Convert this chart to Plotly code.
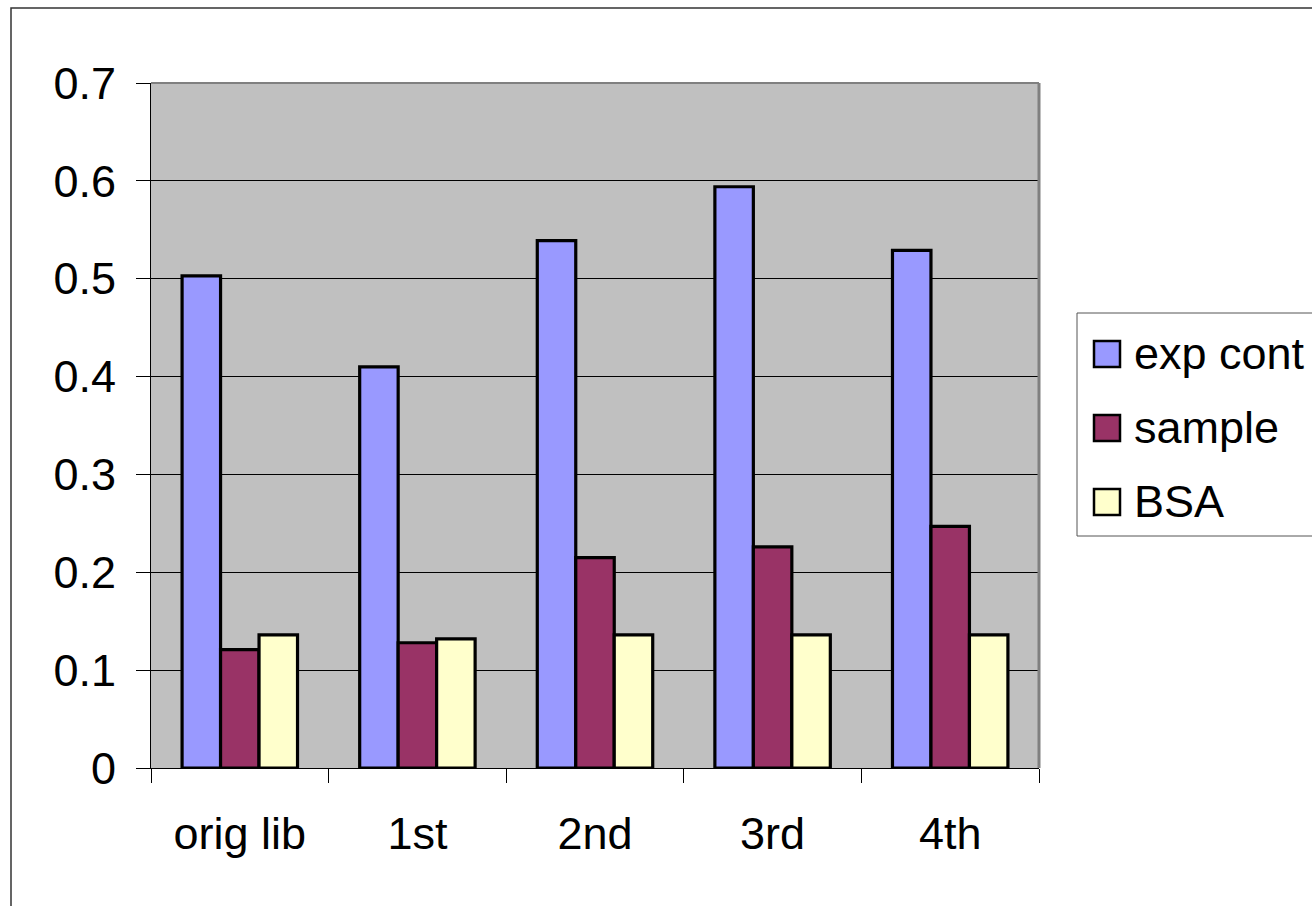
import plotly.graph_objects as go

# Category labels and series values
categories = ["orig lib", "1st", "2nd", "3rd", "4th"]
series_names = ["exp cont", "sample", "BSA"]
exp_cont = [0.503, 0.410, 0.539, 0.594, 0.529]
sample = [0.121, 0.128, 0.215, 0.226, 0.247]
bsa = [0.136, 0.132, 0.136, 0.136, 0.136]
y_ticks = [0, 0.1, 0.2, 0.3, 0.4, 0.5, 0.6, 0.7]

colors = ["#9999FF", "#993366", "#FFFFCC"]
FONT = "Liberation Sans, Arial, sans-serif"

W, H = 1312, 906
L, R, T, B = 151, 273, 83, 138
PW, PH = W - L - R, H - T - B


def px_x(px):
    return (px - L) / PW


def px_y(py):
    return (H - B - py) / PH


fig = go.Figure()
for name, vals, col in zip(series_names, [exp_cont, sample, bsa], colors):
    fig.add_trace(go.Bar(
        x=categories, y=vals, name=name,
        marker=dict(color=col, line=dict(color="black", width=3.2)),
        showlegend=False,
    ))

shapes = []
annotations = []

# outer chart frame
shapes.append(dict(type="rect", xref="paper", yref="paper",
                   x0=px_x(11), x1=px_x(W + 20), y0=px_y(H + 20), y1=px_y(8),
                   line=dict(color="#333333", width=1.5), fillcolor="rgba(0,0,0,0)"))
# plot-area border (top and right)
shapes.append(dict(type="line", xref="paper", yref="paper", x0=0, x1=1, y0=1, y1=1,
                   line=dict(color="#808080", width=2)))
shapes.append(dict(type="line", xref="paper", yref="paper", x0=1, x1=1, y0=0, y1=1,
                   line=dict(color="#808080", width=3)))

# legend box
shapes.append(dict(type="rect", xref="paper", yref="paper",
                   x0=px_x(1077), x1=px_x(W + 20), y0=px_y(536), y1=px_y(313),
                   line=dict(color="#555555", width=1), fillcolor="white"))
centers = [354, 428, 502]
for name, col, cy in zip(series_names, colors, centers):
    shapes.append(dict(type="rect", xref="paper", yref="paper",
                       x0=px_x(1094), x1=px_x(1120), y0=px_y(cy + 13), y1=px_y(cy - 13),
                       line=dict(color="black", width=2.5), fillcolor=col))
    annotations.append(dict(text=name, xref="paper", yref="paper",
                            x=px_x(1132), y=px_y(cy - 1), xanchor="left", yanchor="middle",
                            showarrow=False, font=dict(family=FONT, size=45, color="black")))

fig.update_layout(
    width=W, height=H,
    margin=dict(l=L, r=R, t=T, b=B),
    paper_bgcolor="white",
    plot_bgcolor="#C0C0C0",
    barmode="group",
    bargap=0.35,
    bargroupgap=0,
    font=dict(family=FONT, size=45, color="black"),
    shapes=shapes,
    annotations=annotations,
    showlegend=False,
)
fig.update_xaxes(
    type="category",
    showline=True, linecolor="black", linewidth=1,
    ticks="outside", ticklen=14, tickcolor="black", tickwidth=1,
    tickson="boundaries",
    showgrid=False,
    ticklabelstandoff=26,
    tickfont=dict(family=FONT, size=45, color="black"),
)
fig.update_yaxes(
    range=[0, 0.7],
    tickvals=y_ticks,
    showline=True, linecolor="black", linewidth=1,
    ticks="outside", ticklen=14, tickcolor="black", tickwidth=1,
    showgrid=True, gridcolor="black", gridwidth=1,
    zeroline=False,
    ticklabelstandoff=11,
    tickfont=dict(family=FONT, size=45, color="black"),
)

fig.write_html("out.html")
